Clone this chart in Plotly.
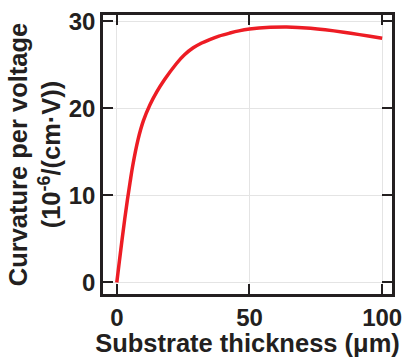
import plotly.graph_objects as go

thickness_um = [0, 1, 2, 3, 4, 5, 6, 8, 10, 12.5, 15, 18, 22.5, 25.5, 28.8, 32,
                35, 38.5, 42.6, 46, 50, 57.8, 64, 73, 85.5, 100]
curvature = [0, 2.5, 4.95, 7.3, 9.5, 11.5, 13.4, 16.4, 18.55, 20.4, 21.85, 23.3,
             25.15, 26.15, 26.95, 27.5, 27.9, 28.3, 28.65, 28.9, 29.1, 29.3,
             29.35, 29.2, 28.75, 28.05]

x_ticks = [0, 50, 100]
y_ticks = [0, 10, 20, 30]

FONT = "Liberation Sans, Arial, Helvetica, sans-serif"
DARK = "#231f20"

fig = go.Figure()
fig.add_trace(go.Scatter(
    x=thickness_um, y=curvature, mode="lines",
    line=dict(color="#ed1c24", width=3.5, shape="spline", smoothing=1.0),
    showlegend=False,
))

axis_common = dict(
    showline=True, linecolor=DARK, linewidth=2.5, mirror="ticks",
    ticks="inside", ticklen=10, tickwidth=2, tickcolor=DARK,
    showgrid=True, gridcolor="#e4e4e4", gridwidth=1,
    zeroline=False,
    tickfont=dict(family=FONT, size=24, color=DARK, weight="bold"),
)

fig.update_xaxes(
    range=[-5.2, 103.7], tickvals=x_ticks,
    title=dict(text="Substrate thickness (μm)", standoff=9,
               font=dict(family=FONT, size=25.5, color=DARK, weight="bold")),
    **axis_common,
)
fig.update_yaxes(
    range=[-1.33, 30.72], tickvals=y_ticks,
    title=dict(text="Curvature per voltage<br>(10<sup>-6</sup>/(cm·V))", standoff=1,
               font=dict(family=FONT, size=25.5, color=DARK, weight="bold")),
    **axis_common,
)

fig.update_layout(
    width=409, height=357,
    margin=dict(l=103, r=17, t=15, b=63, autoexpand=False),
    paper_bgcolor="white", plot_bgcolor="white",
    font=dict(family=FONT, color=DARK),
)

fig.write_html("out.html")
